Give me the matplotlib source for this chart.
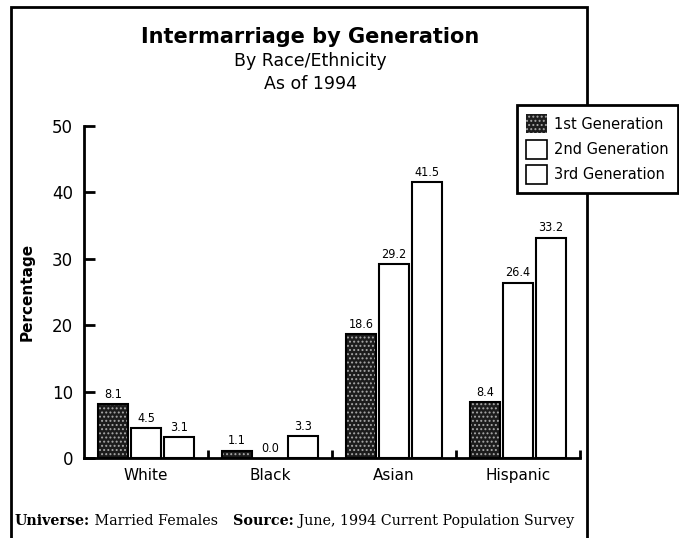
import matplotlib
matplotlib.use("Agg")
import matplotlib.pyplot as plt
import numpy as np
from matplotlib.patches import Rectangle
from matplotlib import font_manager

categories = ["White", "Black", "Asian", "Hispanic"]
series_names = ["1st Generation", "2nd Generation", "3rd Generation"]
gen1 = [8.1, 1.1, 18.6, 8.4]
gen2 = [4.5, 0.0, 29.2, 26.4]
gen3 = [3.1, 3.3, 41.5, 33.2]
yticks = [0, 10, 20, 30, 40, 50]
footer_parts = [("Universe:", "bold"), (" Married Females", "normal"),
                ("   Source:", "bold"), (" June, 1994 Current Population Survey", "normal")]

W, H = 679, 538
fig = plt.figure(figsize=(W / 100, H / 100), dpi=100)
fig.patch.set_facecolor("white")

sans = "DejaVu Sans"
names = {f.name for f in font_manager.fontManager.ttflist}
narrow_fp = dict(family="Liberation Sans Narrow") if "Liberation Sans Narrow" in names else dict(family="DejaVu Sans", stretch="condensed")

# outer frame
frame = Rectangle((11 / W, -0.05), (587 - 11) / W, 1.05 - 7 / H, transform=fig.transFigure,
                  fill=False, lw=2.0, edgecolor="black", zorder=0)
fig.patches.append(frame)

ax = fig.add_axes([84 / W, (H - 458) / H, (580 - 84) / W, (458 - 126) / H])
x = np.arange(len(categories))
step = 0.266
bw = 0.245
series = [gen1, gen2, gen3]

plt.rcParams["hatch.linewidth"] = 0.9
dark = "#1c1c1c"
speck = "#a8a8a8"
for k, vals in enumerate(series):
    pos = x + (k - 1) * step
    if k == 0:
        ax.bar(pos, vals, width=bw, color=dark, edgecolor=speck, hatch="....", linewidth=0, zorder=2)
        ax.bar(pos, vals, width=bw, fill=False, edgecolor="black", linewidth=1.5, zorder=3)
    else:
        drawn = [v if v > 0 else np.nan for v in vals]
        ax.bar(pos, drawn, width=bw, color="white", edgecolor="black", linewidth=1.5, zorder=2)
    for p, v in zip(pos, vals):
        ax.text(p, v + 0.5, f"{v:.1f}", ha="center", va="bottom", fontsize=9, zorder=4, **narrow_fp)

ax.set_xlim(-0.5, len(categories) - 0.5)
ax.set_ylim(0, 50)
for s in ["top", "right"]:
    ax.spines[s].set_visible(False)
for s in ["left", "bottom"]:
    ax.spines[s].set_linewidth(2)
ax.set_yticks(yticks)
ax.set_yticklabels([str(t) for t in yticks], fontsize=12, family=sans)
ax.tick_params(axis="y", direction="in", length=8, width=2, pad=8)
ax.set_xticks(x)
ax.set_xticklabels(categories, fontsize=11, family=sans)
ax.tick_params(axis="x", which="major", length=0, pad=7)
ax.set_xticks(x + 0.5, minor=True)
ax.tick_params(axis="x", which="minor", direction="in", length=6, width=2)
ax.set_ylabel("Percentage", fontsize=11, fontweight="bold", family=sans, labelpad=12)

# titles
fig.text(310 / W, 1 - 37 / H, "Intermarriage by Generation", ha="center", va="center",
         fontsize=15, fontweight="bold", family=sans)
fig.text(310 / W, 1 - 61 / H, "By Race/Ethnicity", ha="center", va="center", fontsize=12.5, family=sans)
fig.text(310 / W, 1 - 84 / H, "As of 1994", ha="center", va="center", fontsize=12.5, family=sans)

# legend
handles = [
    Rectangle((0, 0), 1, 1, facecolor=dark, edgecolor=speck, hatch="....", linewidth=0),
    Rectangle((0, 0), 1, 1, facecolor="white", edgecolor="black", linewidth=1.2),
    Rectangle((0, 0), 1, 1, facecolor="white", edgecolor="black", linewidth=1.2),
]
leg = fig.legend(handles, series_names, loc="upper left", bbox_to_anchor=(517 / W, 1 - 105 / H),
                 frameon=True, fancybox=False, edgecolor="black", fontsize=10.5,
                 handlelength=1.4, handleheight=1.6, handletextpad=0.5, labelspacing=0.45,
                 borderpad=0.65, borderaxespad=0)
leg.get_frame().set_linewidth(2)
leg.get_frame().set_alpha(1)

# footer (serif, with bold keywords)
fig.canvas.draw()
renderer = fig.canvas.get_renderer()
xpos = 15
for txt, wt in footer_parts:
    t = fig.text(xpos / W, 1 - 521 / H, txt, ha="left", va="center", fontsize=10.3,
                 fontweight=wt, family="DejaVu Serif")
    bb = t.get_window_extent(renderer)
    xpos += bb.width

fig.savefig("out.png", dpi=100)
